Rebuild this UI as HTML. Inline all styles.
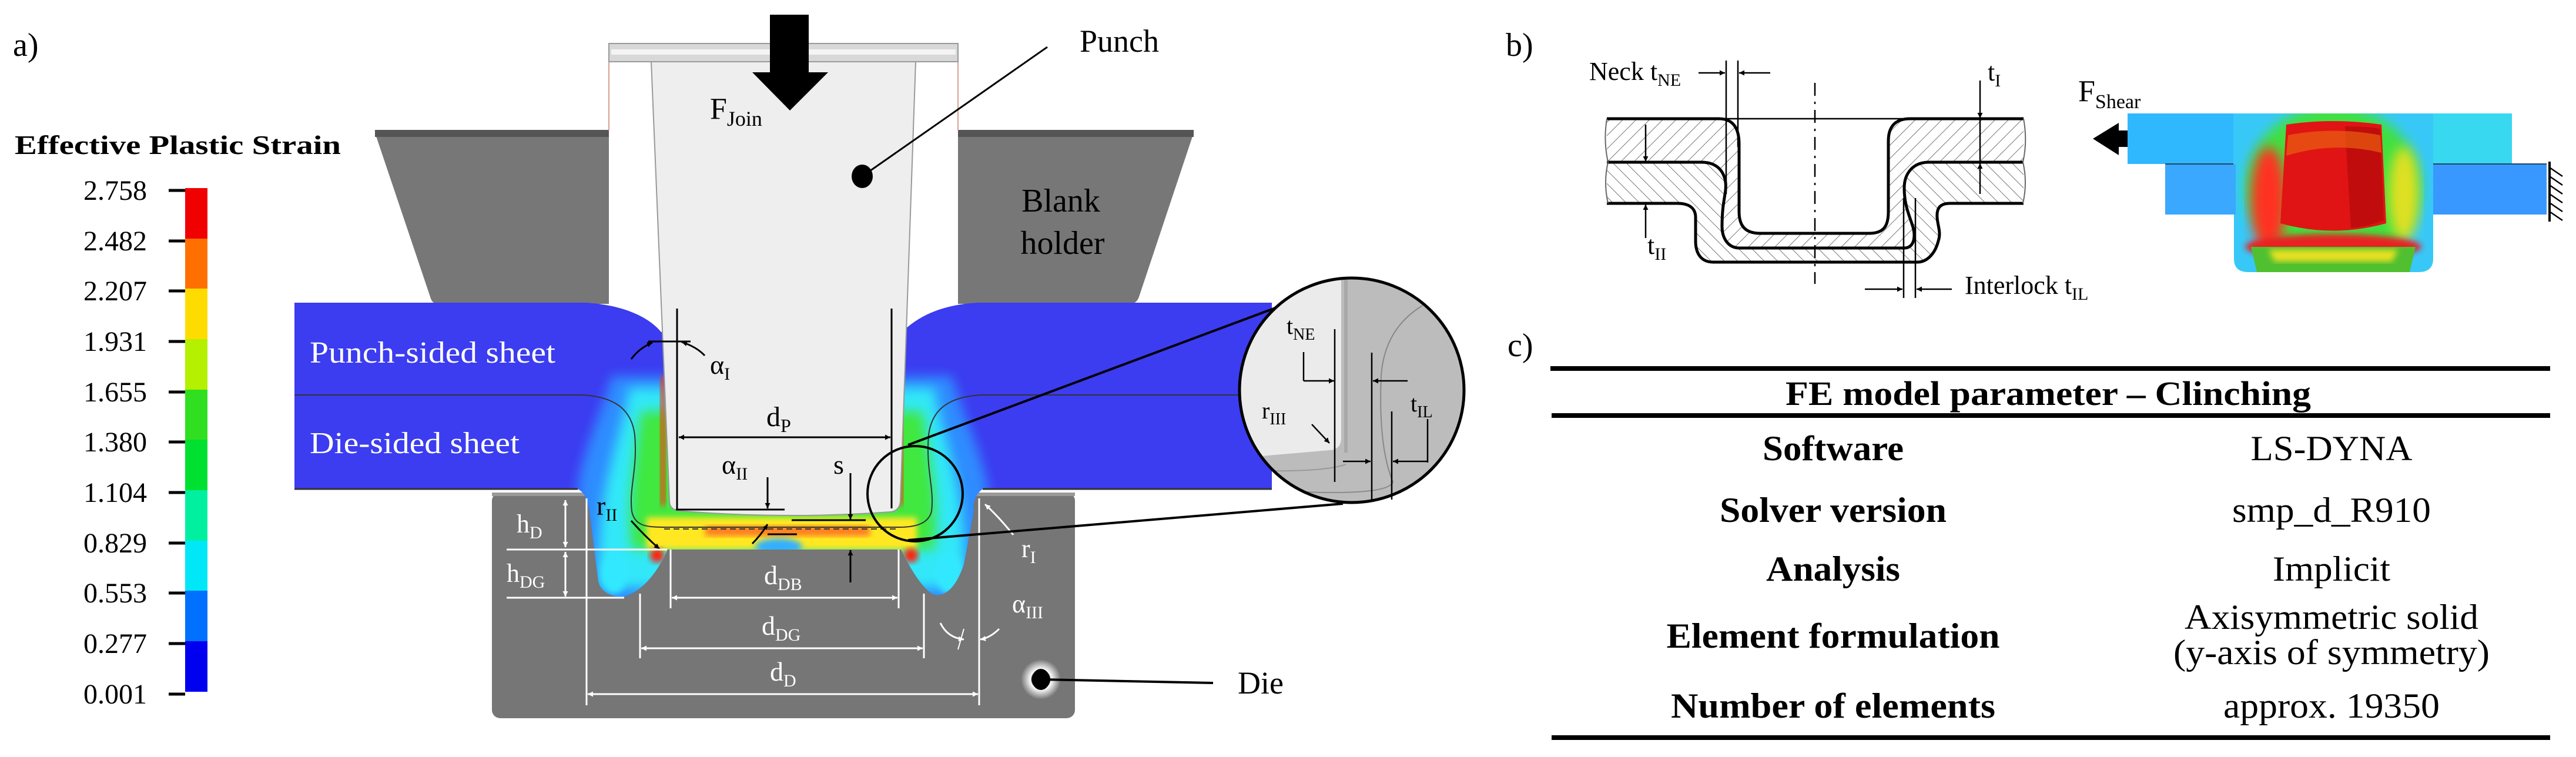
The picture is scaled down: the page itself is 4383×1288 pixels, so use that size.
<!DOCTYPE html>
<html><head><meta charset="utf-8"><style>
html,body{margin:0;padding:0;background:#fff;}
svg{display:block;font-family:"Liberation Serif",serif;}
</style></head><body>
<svg width="4383" height="1288" viewBox="0 0 4383 1288" xmlns="http://www.w3.org/2000/svg" font-family="Liberation Serif, serif">
<defs>
<pattern id="h1" width="16" height="16" patternUnits="userSpaceOnUse" patternTransform="rotate(45)"><line x1="0" y1="0" x2="0" y2="16" stroke="#777" stroke-width="2"/></pattern>
<pattern id="h2" width="16" height="16" patternUnits="userSpaceOnUse" patternTransform="rotate(-45)"><line x1="0" y1="0" x2="0" y2="16" stroke="#777" stroke-width="2"/></pattern>
<filter id="bl" x="-20%" y="-20%" width="140%" height="140%"><feGaussianBlur stdDeviation="10"/></filter>
<filter id="bl2" x="-20%" y="-20%" width="140%" height="140%"><feGaussianBlur stdDeviation="5"/></filter>
<radialGradient id="glow"><stop offset="0.45" stop-color="#000"/><stop offset="0.5" stop-color="#fff"/><stop offset="1" stop-color="#fff" stop-opacity="0"/></radialGradient>
<clipPath id="sheetclip"><path d="M501,515 H995 C1060,518 1105,540 1125,565 L1535,565 C1560,540 1600,518 1665,515 H2164 V832 H1672 C1660,840 1655,855 1657,870 L1640,960 C1625,1005 1605,1015 1590,1012 C1570,1005 1545,960 1533,935 H1136 C1125,960 1100,1005 1060,1016 C1035,1015 1022,1005 1018,990 L1003,870 C1000,850 995,838 983,832 H501 Z"/></clipPath>
<clipPath id="mag"><circle cx="2300" cy="664" r="190"/></clipPath>
<clipPath id="cupclip"><path d="M3620,193 H4274 V279 H4333 V365 H4140 V440 Q4140,463 4115,463 H3825 Q3801,463 3801,440 V365 H3684 V279 H3620 Z"/></clipPath>
<marker id="ar" viewBox="0 0 10 10" refX="10" refY="5" markerWidth="9" markerHeight="9" orient="auto-start-reverse" markerUnits="userSpaceOnUse"><path d="M0,0 L10,5 L0,10 Z" fill="#000"/></marker>
<marker id="aw" viewBox="0 0 10 10" refX="10" refY="5" markerWidth="9" markerHeight="9" orient="auto-start-reverse" markerUnits="userSpaceOnUse"><path d="M0,0 L10,5 L0,10 Z" fill="#fff"/></marker>
</defs>

<text x="22" y="95" font-size="56">a)</text>

<text x="25" y="262" font-size="46" font-weight="bold" textLength="555" lengthAdjust="spacingAndGlyphs">Effective Plastic Strain</text>
<g>
<rect x="315" y="320" width="38" height="86" fill="#f00000"/>
<rect x="315" y="406" width="38" height="86" fill="#ff7000"/>
<rect x="315" y="491" width="38" height="86" fill="#ffdc00"/>
<rect x="315" y="577" width="38" height="86" fill="#b4f000"/>
<rect x="315" y="663" width="38" height="86" fill="#30e020"/>
<rect x="315" y="748" width="38" height="86" fill="#00e030"/>
<rect x="315" y="834" width="38" height="86" fill="#00f0a0"/>
<rect x="315" y="920" width="38" height="86" fill="#00e8f8"/>
<rect x="315" y="1005" width="38" height="86" fill="#0070ff"/>
<rect x="315" y="1091" width="38" height="86" fill="#0000f0"/>
</g>
<g stroke="#000" stroke-width="5">
<line x1="287" y1="324" x2="315" y2="324"/><line x1="287" y1="410" x2="315" y2="410"/><line x1="287" y1="495" x2="315" y2="495"/><line x1="287" y1="581" x2="315" y2="581"/><line x1="287" y1="667" x2="315" y2="667"/><line x1="287" y1="752" x2="315" y2="752"/><line x1="287" y1="838" x2="315" y2="838"/><line x1="287" y1="924" x2="315" y2="924"/><line x1="287" y1="1009" x2="315" y2="1009"/><line x1="287" y1="1095" x2="315" y2="1095"/><line x1="287" y1="1181" x2="315" y2="1181"/>
</g>
<g font-size="48" text-anchor="end">
<text x="250" y="340">2.758</text><text x="250" y="426">2.482</text><text x="250" y="511">2.207</text><text x="250" y="597">1.931</text><text x="250" y="683">1.655</text><text x="250" y="768">1.380</text><text x="250" y="854">1.104</text><text x="250" y="940">0.829</text><text x="250" y="1025">0.553</text><text x="250" y="1111">0.277</text><text x="250" y="1197">0.001</text>
</g>

<path d="M638,226 H1036 V517 H745 Q735,517 732,505 Z" fill="#777"/>
<rect x="638" y="221" width="398" height="12" fill="#555"/>
<path d="M1630,226 H2031 L1938,505 Q1934,517 1922,517 H1630 Z" fill="#777"/>
<rect x="1630" y="221" width="401" height="12" fill="#555"/>
<text x="1805" y="360" font-size="56" text-anchor="middle">Blank</text>
<text x="1808" y="432" font-size="56" text-anchor="middle">holder</text>

<rect x="837" y="838" width="992" height="384" rx="14" fill="#767676"/>
<rect x="837" y="838" width="992" height="6" fill="#9a9a9a"/>

<g clip-path="url(#sheetclip)">
<rect x="480" y="500" width="1700" height="540" fill="#3c3cf0"/>
<path d="M1040,640 C1020,720 960,820 990,900 L1000,1040 H1670 L1680,900 C1700,820 1640,720 1620,640 Z" fill="#2f8cff" filter="url(#bl)"/>
<path d="M1070,660 C1060,740 1010,830 1020,1000 H1640 C1650,830 1600,740 1590,660 Z" fill="#30e8f8" filter="url(#bl)"/>
<path d="M1090,700 C1085,760 1065,850 1075,935 H1590 C1600,850 1578,760 1570,700 Z" fill="#40e840" filter="url(#bl)"/>
<path d="M1100,880 H1560 V935 H1100 Z" fill="#ffe820" filter="url(#bl2)"/>
<path d="M1200,895 H1480 V912 H1200 Z" fill="#ff7a20" filter="url(#bl2)"/>
<ellipse cx="1325" cy="930" rx="40" ry="14" fill="#30b0ff" filter="url(#bl2)"/>
<rect x="1124" y="640" width="8" height="220" fill="#ff3010" filter="url(#bl2)"/>
<rect x="1528" y="640" width="8" height="220" fill="#ff3010" filter="url(#bl2)"/>
<circle cx="1118" cy="945" r="12" fill="#ff2010" filter="url(#bl2)"/>
<circle cx="1550" cy="945" r="12" fill="#ff2010" filter="url(#bl2)"/>
<ellipse cx="1045" cy="975" rx="22" ry="35" fill="#30e8ff" filter="url(#bl2)"/>
<ellipse cx="1615" cy="975" rx="22" ry="35" fill="#30e8ff" filter="url(#bl2)"/>
</g>
<path d="M501,672 H990 C1050,675 1075,700 1080,740 C1085,800 1070,830 1075,870 C1080,895 1100,897 1130,897 H1530 C1560,897 1580,890 1585,870 C1590,830 1575,800 1580,740 C1585,700 1610,675 1670,672 H2164" fill="none" stroke="#333" stroke-width="2"/>
<path d="M1130,900 H1530" stroke="#333" stroke-width="2" stroke-dasharray="10,6"/>
<path d="M501,832 H983 M1672,832 H2164" stroke="#333" stroke-width="3"/>
<text x="527" y="617" font-size="52" fill="#fff" textLength="418" lengthAdjust="spacingAndGlyphs">Punch-sided sheet</text>
<text x="527" y="771" font-size="52" fill="#fff" textLength="357" lengthAdjust="spacingAndGlyphs">Die-sided sheet</text>

<line x1="1036" y1="105" x2="1036" y2="222" stroke="#d9a090" stroke-width="2"/>
<line x1="1630" y1="105" x2="1630" y2="222" stroke="#d9a090" stroke-width="2"/>
<rect x="1036" y="74" width="594" height="31" fill="#d8d8d8" stroke="#999" stroke-width="2"/>
<rect x="1040" y="84" width="586" height="9" fill="#f4f4f4"/>
<path d="M1108,105 L1558,105 L1532,852 Q1531,869 1515,871 Q1330,884 1155,869 Q1139,867 1139,852 Z" fill="#eeeeee" stroke="#999" stroke-width="2"/>
<rect x="1310" y="25" width="66" height="100" fill="#000"/>
<path d="M1280,123 L1409,123 L1344,188 Z" fill="#000"/>
<text x="1208" y="202" font-size="52">F<tspan font-size="36" dy="12">Join</tspan></text>
<line x1="1782" y1="80" x2="1467" y2="300" stroke="#000" stroke-width="3"/>
<ellipse cx="1467" cy="300" rx="18" ry="20" fill="#000"/>
<text x="1837" y="88" font-size="54">Punch</text>

<g stroke="#000" stroke-width="3" fill="none">
<line x1="1152" y1="525" x2="1152" y2="867"/>
<line x1="1517" y1="525" x2="1517" y2="865"/>
<line x1="1150" y1="867" x2="1335" y2="867"/>
<line x1="1347" y1="885" x2="1473" y2="885"/>
<line x1="1306" y1="909" x2="1356" y2="909"/>
<line x1="1155" y1="744" x2="1515" y2="744" marker-start="url(#ar)" marker-end="url(#ar)"/>
<line x1="1306" y1="812" x2="1306" y2="865" marker-end="url(#ar)"/>
<path d="M1280,925 Q1295,910 1306,892" marker-end="url(#ar)"/>
<line x1="1447" y1="805" x2="1447" y2="884" marker-end="url(#ar)"/>
<line x1="1447" y1="991" x2="1447" y2="936" marker-end="url(#ar)"/>
<line x1="1103" y1="581" x2="1175" y2="581"/>
<path d="M1074,611 Q1088,592 1110,583" marker-end="url(#ar)"/>
<path d="M1199,605 Q1185,590 1160,582" marker-end="url(#ar)"/>
<path d="M1074,886 Q1095,910 1122,934" marker-end="url(#ar)"/>
</g>
<text x="1208" y="636" font-size="46">α<tspan font-size="30" dy="10">I</tspan></text>
<text x="1304" y="725" font-size="48">d<tspan font-size="32" dy="10">P</tspan></text>
<text x="1228" y="806" font-size="46">α<tspan font-size="30" dy="10">II</tspan></text>
<text x="1418" y="806" font-size="46">s</text>
<text x="1015" y="876" font-size="46">r<tspan font-size="30" dy="10">II</tspan></text>

<g stroke="#fff" stroke-width="3" fill="none">
<line x1="862" y1="935" x2="1135" y2="935"/>
<line x1="862" y1="1017" x2="1062" y2="1017"/>
<line x1="998" y1="848" x2="998" y2="1200"/>
<line x1="1666" y1="848" x2="1666" y2="1200"/>
<line x1="1089" y1="1010" x2="1089" y2="1120"/>
<line x1="1572" y1="1010" x2="1572" y2="1120"/>
<line x1="1141" y1="935" x2="1141" y2="1035"/>
<line x1="1529" y1="935" x2="1529" y2="1035"/>
<line x1="962" y1="851" x2="962" y2="931" marker-start="url(#aw)" marker-end="url(#aw)"/>
<line x1="962" y1="939" x2="962" y2="1015" marker-start="url(#aw)" marker-end="url(#aw)"/>
<line x1="1143" y1="1017" x2="1527" y2="1017" marker-start="url(#aw)" marker-end="url(#aw)"/>
<line x1="1091" y1="1103" x2="1570" y2="1103" marker-start="url(#aw)" marker-end="url(#aw)"/>
<line x1="1000" y1="1181" x2="1664" y2="1181" marker-start="url(#aw)" marker-end="url(#aw)"/>
<path d="M1724,910 Q1700,880 1676,858" marker-end="url(#aw)"/>
<line x1="1640" y1="1070" x2="1630" y2="1105" stroke-width="2"/>
<path d="M1600,1060 Q1612,1085 1640,1088" marker-end="url(#aw)"/>
<path d="M1700,1070 Q1685,1085 1668,1088" marker-end="url(#aw)"/>
</g>
<g fill="#fff">
<text x="879" y="906" font-size="44">h<tspan font-size="30" dy="10">D</tspan></text>
<text x="862" y="990" font-size="44">h<tspan font-size="30" dy="10">DG</tspan></text>
<text x="1300" y="994" font-size="46">d<tspan font-size="30" dy="10">DB</tspan></text>
<text x="1296" y="1080" font-size="46">d<tspan font-size="30" dy="10">DG</tspan></text>
<text x="1310" y="1158" font-size="46">d<tspan font-size="30" dy="10">D</tspan></text>
<text x="1738" y="948" font-size="44">r<tspan font-size="30" dy="10">I</tspan></text>
<text x="1722" y="1042" font-size="44">α<tspan font-size="30" dy="10">III</tspan></text>
</g>

<circle cx="1771" cy="1156" r="34" fill="url(#glow)"/>
<ellipse cx="1771" cy="1156" rx="15" ry="18" fill="#000"/>
<line x1="1771" y1="1156" x2="2064" y2="1162" stroke="#000" stroke-width="4"/>
<text x="2106" y="1180" font-size="54">Die</text>

<circle cx="1557" cy="840" r="81" fill="none" stroke="#000" stroke-width="4"/>
<line x1="1545" y1="757" x2="2175" y2="522" stroke="#000" stroke-width="4"/>
<line x1="1545" y1="919" x2="2285" y2="857" stroke="#000" stroke-width="4"/>
<g clip-path="url(#mag)">
<rect x="2100" y="470" width="400" height="400" fill="#bcbcbc"/>
<path d="M2100,470 H2282 V745 Q2282,765 2262,766 L2100,780 Z" fill="#ebebeb"/>
<path d="M2290,470 V770" stroke="#a8a8a8" stroke-width="6"/>
<path d="M2420,520 Q2355,560 2350,640 Q2345,760 2370,820 Q2360,850 2100,830" fill="none" stroke="#888" stroke-width="2"/>
<path d="M2100,800 Q2250,805 2290,790" fill="none" stroke="#999" stroke-width="2"/>
</g>
<circle cx="2300" cy="664" r="191" fill="none" stroke="#000" stroke-width="5"/>
<g stroke="#000" stroke-width="2.5" fill="none">
<line x1="2271" y1="560" x2="2271" y2="820"/>
<line x1="2334" y1="600" x2="2334" y2="850"/>
<line x1="2368" y1="700" x2="2368" y2="850"/>
<line x1="2218" y1="599" x2="2218" y2="648"/>
<line x1="2218" y1="648" x2="2270" y2="648" marker-end="url(#ar)"/>
<line x1="2395" y1="648" x2="2336" y2="648" marker-end="url(#ar)"/>
<line x1="2429" y1="713" x2="2429" y2="787"/>
<line x1="2285" y1="785" x2="2332" y2="785" marker-end="url(#ar)"/>
<line x1="2429" y1="785" x2="2370" y2="785" marker-end="url(#ar)"/>
<line x1="2232" y1="722" x2="2262" y2="754" marker-end="url(#ar)"/>
</g>
<text x="2189" y="568" font-size="40">t<tspan font-size="28" dy="10">NE</tspan></text>
<text x="2147" y="712" font-size="40">r<tspan font-size="28" dy="10">III</tspan></text>
<text x="2400" y="700" font-size="40">t<tspan font-size="28" dy="10">IL</tspan></text>

<text x="2562" y="95" font-size="56">b)</text>
<path d="M2734,202 H2925 C2950,202 2959,220 2959,245 V360 C2959,385 2970,397 2995,397 H3180 C3205,397 3213,385 3213,360 V240 C3213,215 3225,202 3250,202 H3443 V276 H3282 C3255,276 3240,295 3240,320 C3240,360 3257,380 3257,400 C3257,415 3250,422 3240,422 H2960 C2940,422 2930,405 2930,385 C2930,340 2938,330 2936,310 C2932,285 2915,276 2895,276 H2734 Z" fill="url(#h1)"/>
<path d="M2734,276 H2895 C2915,276 2932,285 2936,310 C2938,330 2930,340 2930,385 C2930,405 2940,422 2960,422 H3240 C3250,422 3257,415 3257,400 C3257,380 3240,360 3240,320 C3240,295 3255,276 3282,276 H3443 V346 H3318 C3300,346 3295,355 3296,370 C3297,385 3303,395 3298,410 C3293,430 3280,446 3262,446 H2915 C2895,446 2885,432 2885,410 V370 C2885,355 2875,346 2854,346 H2734 Z" fill="url(#h2)"/>
<g fill="none" stroke="#000" stroke-width="5">
<path d="M2734,202 H2925 C2950,202 2959,220 2959,245 V360 C2959,385 2970,397 2995,397 H3180 C3205,397 3213,385 3213,360 V240 C3213,215 3225,202 3250,202 H3443"/>
<path d="M2734,276 H2895 C2915,276 2932,285 2936,310 C2938,330 2930,340 2930,385 C2930,405 2940,422 2960,422 H3240 C3250,422 3257,415 3257,400 C3257,380 3240,360 3240,320 C3240,295 3255,276 3282,276 H3443"/>
<path d="M2734,346 H2854 C2875,346 2885,355 2885,370 V410 C2885,432 2895,446 2915,446 H3262 C3280,446 3293,430 3298,410 C3303,395 3297,385 3296,370 C3295,355 3300,346 3318,346 H3443"/>
</g>
<g fill="none" stroke="#666" stroke-width="2">
<path d="M2734,202 Q2728,240 2736,276 Q2728,310 2736,346"/>
<path d="M3443,202 Q3450,240 3442,276 Q3450,310 3442,346"/>
</g>
<g stroke="#000" stroke-width="2.5" fill="none">
<line x1="2925" y1="202" x2="3250" y2="202"/>
<line x1="3088" y1="141" x2="3088" y2="483" stroke-dasharray="22,10,4,10"/>
<line x1="2937" y1="103" x2="2937" y2="330"/>
<line x1="2957" y1="103" x2="2957" y2="250"/>
<line x1="2890" y1="124" x2="2935" y2="124" marker-end="url(#ar)"/>
<line x1="3012" y1="124" x2="2959" y2="124" marker-end="url(#ar)"/>
<line x1="3369" y1="137" x2="3369" y2="201" marker-end="url(#ar)"/>
<line x1="3369" y1="330" x2="3369" y2="278" marker-end="url(#ar)"/>
<line x1="3369" y1="201" x2="3369" y2="278"/>
<line x1="2800" y1="212" x2="2800" y2="275" marker-end="url(#ar)"/>
<line x1="2800" y1="405" x2="2800" y2="348" marker-end="url(#ar)"/>
<line x1="3239" y1="337" x2="3239" y2="507"/>
<line x1="3259" y1="337" x2="3259" y2="507"/>
<line x1="3173" y1="492" x2="3237" y2="492" marker-end="url(#ar)"/>
<line x1="3321" y1="492" x2="3261" y2="492" marker-end="url(#ar)"/>
</g>
<text x="2704" y="136" font-size="44">Neck t<tspan font-size="30" dy="10">NE</tspan></text>
<text x="3382" y="137" font-size="44">t<tspan font-size="30" dy="10">I</tspan></text>
<text x="2803" y="432" font-size="44">t<tspan font-size="30" dy="10">II</tspan></text>
<text x="3343" y="500" font-size="44">Interlock t<tspan font-size="30" dy="10">IL</tspan></text>

<text x="3536" y="172" font-size="52">F<tspan font-size="34" dy="12">Shear</tspan></text>
<path d="M3561,236 L3605,209 V222 H3658 V250 H3605 V264 Z" fill="#000"/>
<g clip-path="url(#cupclip)">
<rect x="3600" y="180" width="760" height="300" fill="#38c8f8"/>
<rect x="3620" y="193" width="180" height="86" fill="#30b8ff"/>
<rect x="4140" y="193" width="134" height="86" fill="#38d8f0"/>
<rect x="3684" y="279" width="120" height="86" fill="#3aa8ff"/>
<rect x="4140" y="279" width="193" height="86" fill="#3898ff"/>
<ellipse cx="3970" cy="320" rx="150" ry="140" fill="#40e040" filter="url(#bl)"/>
<ellipse cx="3860" cy="340" rx="30" ry="90" fill="#ff3020" filter="url(#bl)"/>
<ellipse cx="4090" cy="330" rx="25" ry="80" fill="#e0e020" filter="url(#bl)"/>
<ellipse cx="3970" cy="420" rx="150" ry="22" fill="#e82020" filter="url(#bl2)"/>
<path d="M3830,420 H4110 L4100,463 H3840 Z" fill="#50c030"/>
<path d="M3860,425 H4080 L4070,445 H3870 Z" fill="#e8e020" filter="url(#bl2)"/>
<path d="M3890,212 Q3970,200 4052,212 L4060,380 Q3970,405 3880,380 Z" fill="#e01414"/>
<path d="M3990,215 Q4040,215 4050,220 L4056,375 Q4030,385 4000,388 Z" fill="#c00c0c"/>
<path d="M3893,230 Q3970,215 4050,230 L4052,260 Q3970,240 3890,265 Z" fill="#e86010" opacity="0.7"/>
</g>
<path d="M3684,279 H3800 M4140,279 H4333" stroke="#246" stroke-width="2"/>
<line x1="4338" y1="275" x2="4338" y2="377" stroke="#000" stroke-width="4"/>
<g stroke="#000" stroke-width="2.5">
<line x1="4338" y1="285" x2="4360" y2="300"/><line x1="4338" y1="300" x2="4360" y2="315"/><line x1="4338" y1="315" x2="4360" y2="330"/><line x1="4338" y1="330" x2="4360" y2="345"/><line x1="4338" y1="345" x2="4360" y2="360"/><line x1="4338" y1="360" x2="4360" y2="375"/>
</g>

<text x="2565" y="606" font-size="56">c)</text>
<rect x="2638" y="623" width="1701" height="8" fill="#000"/>
<rect x="2640" y="703" width="1699" height="8" fill="#000"/>
<rect x="2640" y="1251" width="1699" height="8" fill="#000"/>
<text x="3485" y="689" font-size="58" font-weight="bold" text-anchor="middle" textLength="894" lengthAdjust="spacingAndGlyphs">FE model parameter – Clinching</text>
<g font-size="60" font-weight="bold" text-anchor="middle">
<text x="3119" y="783" textLength="240" lengthAdjust="spacingAndGlyphs">Software</text>
<text x="3119" y="888" textLength="386" lengthAdjust="spacingAndGlyphs">Solver version</text>
<text x="3119" y="988" textLength="228" lengthAdjust="spacingAndGlyphs">Analysis</text>
<text x="3119" y="1102" textLength="567" lengthAdjust="spacingAndGlyphs">Element formulation</text>
<text x="3119" y="1221" textLength="552" lengthAdjust="spacingAndGlyphs">Number of elements</text>
</g>
<g font-size="60" text-anchor="middle">
<text x="3967" y="783" textLength="275" lengthAdjust="spacingAndGlyphs">LS-DYNA</text>
<text x="3967" y="888" textLength="338" lengthAdjust="spacingAndGlyphs">smp_d_R910</text>
<text x="3967" y="988" textLength="200" lengthAdjust="spacingAndGlyphs">Implicit</text>
<text x="3967" y="1070" textLength="500" lengthAdjust="spacingAndGlyphs">Axisymmetric solid</text>
<text x="3967" y="1130" textLength="538" lengthAdjust="spacingAndGlyphs">(y-axis of symmetry)</text>
<text x="3967" y="1221" textLength="368" lengthAdjust="spacingAndGlyphs">approx. 19350</text>
</g>
</svg>
</body></html>
